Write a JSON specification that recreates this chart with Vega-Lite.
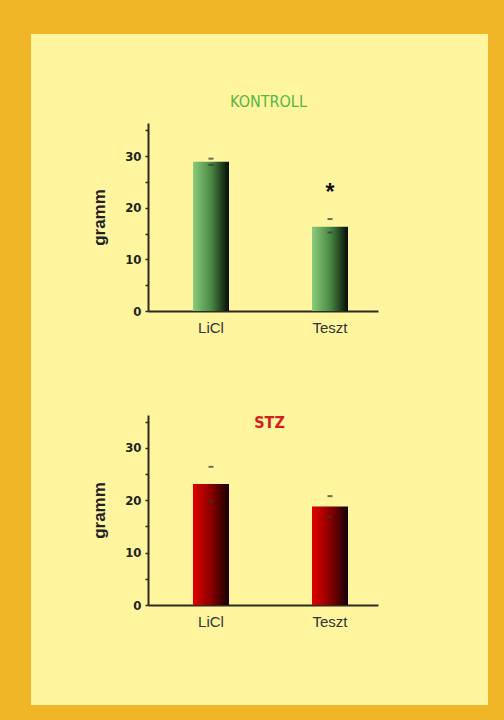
{
  "$schema": "https://vega.github.io/schema/vega-lite/v6.json",
  "background": "#F1B528",
  "padding": {"left": 31, "top": 34, "right": 16, "bottom": 15},
  "spacing": 0,
  "datasets": {
    "kontroll": [
      {"group": "LiCl", "mean": 28.9, "lo": 28.3, "hi": 29.5},
      {"group": "Teszt", "mean": 16.3, "lo": 15.2, "hi": 17.8, "star": "*", "star_y": 21.5}
    ],
    "stz": [
      {"group": "LiCl", "mean": 23.1, "lo": 19.8, "hi": 26.4},
      {"group": "Teszt", "mean": 18.8, "lo": 16.8, "hi": 20.8}
    ]
  },
  "vconcat": [
    {
      "width": 457,
      "height": 336,
      "title": {"text": "KONTROLL", "color": "#58B646", "fontSize": 16, "font": "Liberation Sans Narrow, DejaVu Sans Condensed, sans-serif", "fontWeight": "normal", "offset": -76, "dx": 9, "anchor": "middle"},
      "data": {"name": "kontroll"},
      "encoding": {
        "x": {
          "field": "group", "type": "nominal", "sort": null,
          "scale": {"range": [117, 347], "paddingInner": 0.6975, "paddingOuter": 0.315, "align": 0.6},
          "axis": {"title": null, "labelAngle": 0, "ticks": false, "tickSize": 0, "domainWidth": 2, "domainColor": "#2B2B1E", "labelFont": "Liberation Sans, Arial, sans-serif", "labelFontSize": 15, "labelColor": "#333333", "labelPadding": 9, "offset": -59, "orient": "bottom"}
        }
      },
      "layer": [
        {
          "mark": {"type": "bar", "color": {"gradient": "linear", "x1": 0, "y1": 0, "x2": 1, "y2": 0, "stops": [{"offset": 0, "color": "#8ACB7C"}, {"offset": 0.5, "color": "#4A8A44"}, {"offset": 1, "color": "#050D05"}]}},
          "encoding": {
            "y": {
              "field": "mean", "type": "quantitative", "title": "gramm",
              "scale": {"domain": [0, 36.4], "range": [277, 89], "nice": false, "zero": true},
              "axis": {"values": [0, 5, 10, 15, 20, 25, 30, 35], "labelExpr": "datum.value % 10 === 0 ? datum.label : ''", "tickSize": 3, "tickWidth": 1.5, "tickColor": "#2B2B1E", "domainColor": "#2B2B1E", "domainWidth": 2, "labelFont": "Liberation Sans Narrow, DejaVu Sans Condensed, sans-serif", "labelFontWeight": "bold", "labelFontSize": 13, "labelColor": "#222222", "labelPadding": 4, "titleFont": "Liberation Sans, Arial, sans-serif", "titleFontSize": 17, "titleFontWeight": "bold", "titleColor": "#222222", "titlePadding": 16, "offset": -117, "grid": false}
            }
          }
        },
        {
          "mark": {"type": "tick", "color": "#333333", "size": 5, "thickness": 2},
          "encoding": {"y": {"field": "hi", "type": "quantitative", "title": "gramm"}}
        },
        {
          "mark": {"type": "tick", "color": "#333333", "size": 5, "thickness": 2},
          "encoding": {"y": {"field": "lo", "type": "quantitative", "title": "gramm"}}
        },
        {
          "transform": [{"filter": "datum.star"}],
          "mark": {"type": "text", "font": "Liberation Sans, Arial, sans-serif", "fontSize": 23, "fontWeight": "bold", "color": "#111111", "baseline": "alphabetic"},
          "encoding": {"y": {"field": "star_y", "type": "quantitative", "title": "gramm"}, "text": {"field": "star"}}
        }
      ]
    },
    {
      "width": 457,
      "height": 335,
      "title": {"text": "STZ", "color": "#D21E1E", "fontSize": 16, "font": "Liberation Sans Narrow, DejaVu Sans Condensed, sans-serif", "fontWeight": "bold", "offset": -61, "dx": 10, "anchor": "middle"},
      "data": {"name": "stz"},
      "encoding": {
        "x": {
          "field": "group", "type": "nominal", "sort": null,
          "scale": {"range": [117, 347], "paddingInner": 0.6975, "paddingOuter": 0.315, "align": 0.6},
          "axis": {"title": null, "labelAngle": 0, "ticks": false, "tickSize": 0, "domainWidth": 2, "domainColor": "#2B2B1E", "labelFont": "Liberation Sans, Arial, sans-serif", "labelFontSize": 15, "labelColor": "#333333", "labelPadding": 9, "offset": -100, "orient": "bottom"}
        }
      },
      "layer": [
        {
          "mark": {"type": "bar", "color": {"gradient": "linear", "x1": 0, "y1": 0, "x2": 1, "y2": 0, "stops": [{"offset": 0, "color": "#E20000"}, {"offset": 0.5, "color": "#8A0000"}, {"offset": 1, "color": "#140000"}]}},
          "encoding": {
            "y": {
              "field": "mean", "type": "quantitative", "title": "gramm",
              "scale": {"domain": [0, 36.3], "range": [235, 45], "nice": false, "zero": true},
              "axis": {"values": [0, 5, 10, 15, 20, 25, 30, 35], "labelExpr": "datum.value % 10 === 0 ? datum.label : ''", "tickSize": 3, "tickWidth": 1.5, "tickColor": "#2B2B1E", "domainColor": "#2B2B1E", "domainWidth": 2, "labelFont": "Liberation Sans Narrow, DejaVu Sans Condensed, sans-serif", "labelFontWeight": "bold", "labelFontSize": 13, "labelColor": "#222222", "labelPadding": 4, "titleFont": "Liberation Sans, Arial, sans-serif", "titleFontSize": 17, "titleFontWeight": "bold", "titleColor": "#222222", "titlePadding": 16, "offset": -117, "grid": false}
            }
          }
        },
        {
          "mark": {"type": "tick", "color": "#333333", "size": 5, "thickness": 2},
          "encoding": {"y": {"field": "hi", "type": "quantitative", "title": "gramm"}}
        },
        {
          "mark": {"type": "tick", "color": "#333333", "size": 5, "thickness": 2},
          "encoding": {"y": {"field": "lo", "type": "quantitative", "title": "gramm"}}
        }
      ]
    }
  ],
  "config": {
    "view": {"fill": "#FFF59E", "stroke": null},
    "axis": {"grid": false}
  }
}
